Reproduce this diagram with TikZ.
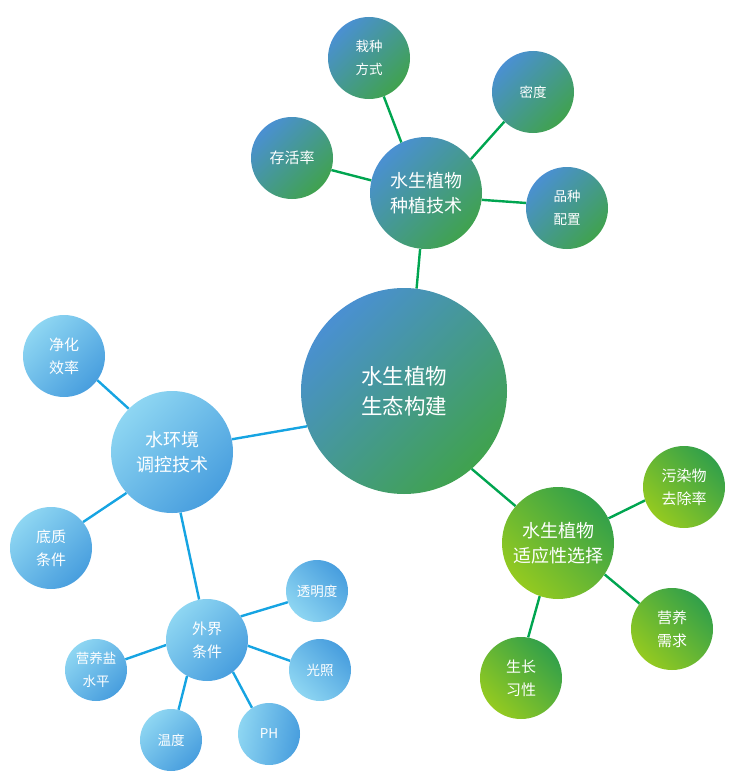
\documentclass[tikz,border=0pt]{standalone}
\usepackage{fontspec}
\setmainfont{Noto Sans CJK SC}
\usetikzlibrary{backgrounds}
\definecolor{tgA}{RGB}{74,144,210}
\definecolor{tgB}{RGB}{64,162,78}
\definecolor{blL}{RGB}{142,214,242}
\definecolor{blD}{RGB}{72,158,222}
\definecolor{grD}{RGB}{50,160,74}
\definecolor{grL}{RGB}{148,202,32}
\definecolor{lnG}{RGB}{0,165,80}
\definecolor{lnB}{RGB}{22,164,226}
\begin{document}
\begin{tikzpicture}[x=1pt,y=-1pt,
  bub/.style={circle, minimum size=#1, inner sep=0pt, text=white, align=center},
  tg/.style={shade, top color=tgA, bottom color=tgB, shading angle=45},
  bl/.style={shade, top color=blL, bottom color=blD, shading angle=45},
  blr/.style={shade, top color=blD, bottom color=blL, shading angle=-45},
  gr/.style={shade, top color=grD, bottom color=grL, shading angle=-45},
  gl/.style={draw=lnG, line width=2.4pt},
  bline/.style={draw=lnB, line width=2.4pt},
  fA/.style={font=\fontsize{21.5}{30}\selectfont},
  fB/.style={font=\fontsize{18}{24.5}\selectfont},
  fC/.style={font=\fontsize{15}{23}\selectfont},
  fD/.style={font=\fontsize{13.5}{23}\selectfont}]
\useasboundingbox (0,0) rectangle (734,784);
% nodes
\node[bub=206pt, tg, fA] (c) at (404,391) {水生植物\\生态构建};
\node[bub=112pt, tg, fB] (zz) at (426,193) {水生植物\\种植技术};
\node[bub=82pt, tg, fD] (zf) at (369,58) {栽种\\方式};
\node[bub=82pt, tg, fD] (md) at (533,92) {密度};
\node[bub=82pt, tg, fC] (ch) at (292,158) {存活率};
\node[bub=82pt, tg, fD] (pz) at (567,208) {品种\\配置};
\node[bub=122pt, bl, fB] (sh) at (172,452) {水环境\\调控技术};
\node[bub=82pt, bl, fC] (jh) at (64,356) {净化\\效率};
\node[bub=82pt, bl, fC] (dz) at (51,548) {底质\\条件};
\node[bub=82pt, bl, fC] (wj) at (207,640) {外界\\条件};
\node[bub=62pt, blr, fD] (tm) at (317,591) {透明度};
\node[bub=62pt, blr, fD] (gz) at (320,670) {光照};
\node[bub=62pt, shade, top color=blL, bottom color=blD, shading angle=80, fD] (ph) at (269,734) {PH};
\node[bub=62pt, bl, fD] (wd) at (171,740) {温度};
\node[bub=62pt, bl, fD] (yy) at (96,670) {营养盐\\水平};
\node[bub=112pt, gr, fB] (sy) at (558,543) {水生植物\\适应性选择};
\node[bub=82pt, gr, fC] (wr) at (684,487) {污染物\\去除率};
\node[bub=82pt, gr, fC] (yx) at (672,629) {营养\\需求};
\node[bub=82pt, gr, fC] (sz) at (521,678) {生长\\习性};
% connectors
\begin{scope}[on background layer]
\draw[gl] (c.83) -- (zz.-96);
\draw[gl] (zz.116) -- (zf.-69);
\draw[gl] (zz.37) -- (md.226);
\draw[gl] (zz.167) -- (ch.-17);
\draw[gl] (zz.-7) -- (pz.173);
\draw[gl] (c.-49) -- (sy.139);
\draw[gl] (sy.26) -- (wr.199);
\draw[gl] (sy.-34) -- (yx.142);
\draw[gl] (sy.-109) -- (sz.80);
\draw[bline] (c.200) -- (sh.12);
\draw[bline] (sh.135) -- (jh.-36);
\draw[bline] (sh.222) -- (dz.39);
\draw[bline] (sh.-82) -- (wj.101);
\draw[bline] (wj.35) -- (tm.201);
\draw[bline] (wj.-8) -- (gz.163);
\draw[bline] (wj.-51) -- (ph.123);
\draw[bline] (wj.-119) -- (wd.76);
\draw[bline] (wj.187) -- (yy.20);
\end{scope}
\end{tikzpicture}
\end{document}
